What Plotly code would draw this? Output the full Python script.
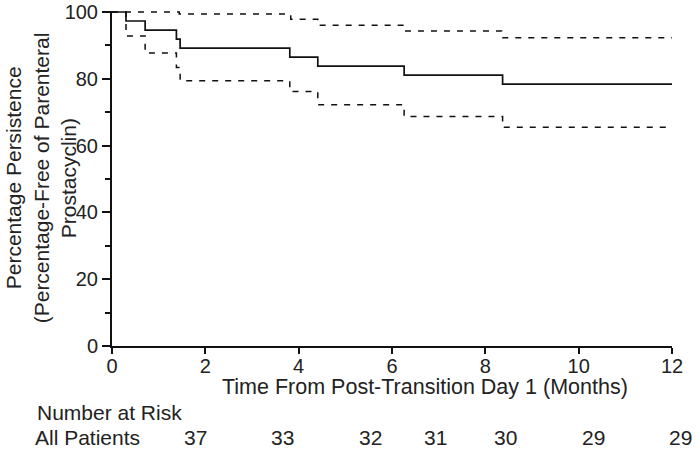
import plotly.graph_objects as go

# ---- data ----
event_times = [0, 0.30, 0.71, 1.38, 1.46, 3.81, 4.41, 6.26, 8.37, 12]
survival = [100, 97.3, 94.6, 91.9, 89.2, 86.5, 83.8, 81.1, 78.4, 78.4]

upper_times = [0, 1.44, 3.83, 4.41, 6.26, 8.35, 12]
upper_ci = [100, 99.4, 97.8, 96.0, 94.3, 92.3, 92.3]

lower_times = [0, 0.30, 0.71, 1.38, 1.46, 3.81, 4.41, 6.26, 8.37, 12]
lower_ci = [100, 92.8, 87.7, 83.4, 79.4, 76.2, 72.2, 68.7, 65.5, 65.5]

x_ticks = [0, 2, 4, 6, 8, 10, 12]
y_ticks = [0, 20, 40, 60, 80, 100]

risk_counts = ["37", "33", "32", "31", "30", "29", "29"]
risk_label_months = [1.78, 3.65, 5.54, 6.93, 8.43, 10.31, 12.18]

x_title = "Time From Post-Transition Day 1 (Months)"
y_title_lines = ["Percentage Persistence", "(Percentage-Free of Parenteral", "Prostacyclin)"]

# ---- layout helpers (pixels) ----
W, H = 700, 450
L, R, T, B = 111.7, 671.7, 11, 346
X_MAX = 12.0
FONT = "Liberation Sans, Arial, sans-serif"
TXT = "#222222"


def px_x(px):
    return (px - L) / (R - L)


def px_y(py):
    return (B - py) / (B - T)


fig = go.Figure()
fig.add_trace(go.Scatter(x=upper_times, y=upper_ci, mode="lines", line_shape="hv",
                         line=dict(color="#111111", width=1.5, dash="6px,7px"), showlegend=False))
fig.add_trace(go.Scatter(x=lower_times, y=lower_ci, mode="lines", line_shape="hv",
                         line=dict(color="#111111", width=1.5, dash="6px,7px"), showlegend=False))
fig.add_trace(go.Scatter(x=event_times, y=survival, mode="lines", line_shape="hv",
                         line=dict(color="#111111", width=1.7), showlegend=False))

annotations = []
annotations.append(dict(text=x_title, x=px_x(425), y=px_y(387), xref="paper", yref="paper",
                        showarrow=False, xanchor="center", yanchor="middle",
                        font=dict(family=FONT, size=21.5, color=TXT)))
for line, cx in zip(y_title_lines, [13, 41, 68]):
    annotations.append(dict(text=line, x=px_x(cx), y=px_y(178), xref="paper", yref="paper",
                            showarrow=False, textangle=-90, xanchor="center", yanchor="middle",
                            font=dict(family=FONT, size=21, color=TXT)))
annotations.append(dict(text="Number at Risk", x=px_x(35), y=px_y(412), xref="paper", yref="paper",
                        showarrow=False, xanchor="left", yanchor="middle",
                        font=dict(family=FONT, size=21, color=TXT)))
annotations.append(dict(text="All Patients", x=px_x(33), y=px_y(437), xref="paper", yref="paper",
                        showarrow=False, xanchor="left", yanchor="middle",
                        font=dict(family=FONT, size=21, color=TXT)))
for cnt, mx in zip(risk_counts, risk_label_months):
    annotations.append(dict(text=cnt, x=mx / X_MAX, y=px_y(437), xref="paper", yref="paper",
                            showarrow=False, xanchor="center", yanchor="middle",
                            font=dict(family=FONT, size=21, color=TXT)))

fig.update_layout(
    template="none",
    width=W, height=H,
    margin=dict(l=L, r=W - R, t=T, b=H - B, pad=0),
    paper_bgcolor="white", plot_bgcolor="white",
    annotations=annotations,
    xaxis=dict(range=[0, X_MAX], tickvals=x_ticks, ticks="outside", ticklen=6, tickwidth=2,
               tickcolor="#111111", showline=True, linecolor="#111111", linewidth=2,
               showgrid=False, zeroline=False, automargin=False,
               ticklabeloverflow="allow", ticklabelstandoff=-5,
               tickfont=dict(family=FONT, size=20, color=TXT)),
    yaxis=dict(range=[0, 100.3], tickvals=y_ticks, ticks="outside", ticklen=8, tickwidth=2,
               tickcolor="#111111", showline=True, linecolor="#111111", linewidth=2,
               showgrid=False, zeroline=False, automargin=False,
               ticklabeloverflow="allow",
               minor=dict(tickvals=[10, 30, 50, 70, 90], ticks="outside", ticklen=5,
                          tickwidth=2, tickcolor="#111111", showgrid=False),
               tickfont=dict(family=FONT, size=20, color=TXT)),
)

fig.write_html("out.html", config={"displayModeBar": False},
               post_script="document.body.style.margin='0';")
